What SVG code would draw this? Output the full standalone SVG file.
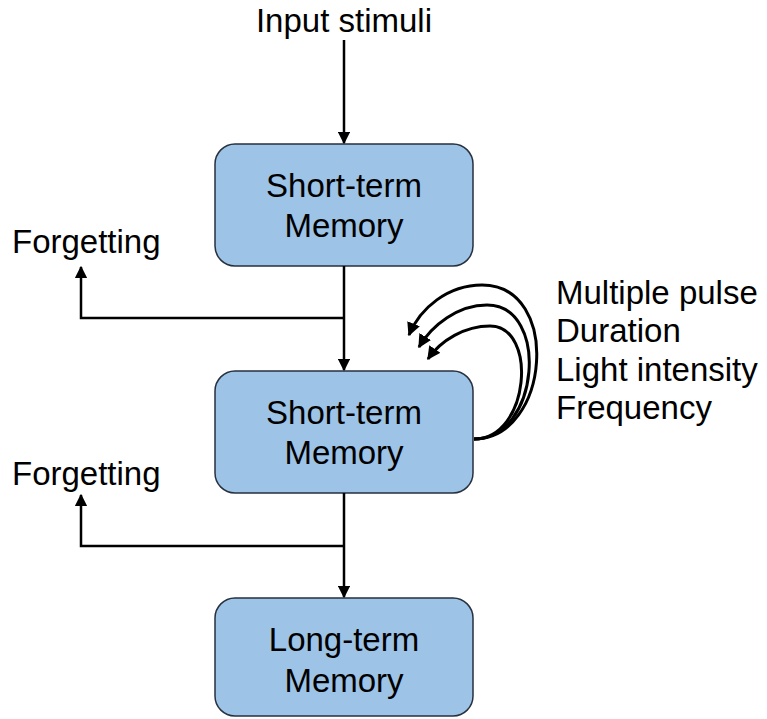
<svg xmlns="http://www.w3.org/2000/svg" width="767" height="719" viewBox="0 0 767 719">
  <style>
    .box { fill: #9dc3e6; stroke: #27313f; stroke-width: 1.5; }
    .lbl { font-family: "Liberation Sans", Arial, sans-serif; font-size: 33px; fill: #000; }
    .mid { text-anchor: middle; }
    .wire { fill: none; stroke: #000; stroke-width: 2.5; }
    .loop { fill: none; stroke: #000; stroke-width: 3; }
  </style>
  <defs>
    <marker id="head" viewBox="0 0 10 10" refX="9" refY="5" markerWidth="5" markerHeight="5" markerUnits="strokeWidth" orient="auto">
      <path d="M0,0 L10,5 L0,10 z" fill="#000"/>
    </marker>
    <marker id="headS" viewBox="0 0 10 10" refX="9" refY="5" markerWidth="4.5" markerHeight="4.5" markerUnits="strokeWidth" orient="auto">
      <path d="M0,0 L10,5 L0,10 z" fill="#000"/>
    </marker>
  </defs>
  <rect width="767" height="719" fill="#fff"/>

  <text class="lbl mid" x="344" y="32">Input stimuli</text>

  <g id="stm1">
    <rect class="box" x="215" y="144" width="258" height="122" rx="20"/>
    <text class="lbl mid" x="344" y="197">Short-term</text>
    <text class="lbl mid" x="344" y="237">Memory</text>
  </g>

  <g id="stm2">
    <rect class="box" x="215" y="371" width="258" height="122" rx="20"/>
    <text class="lbl mid" x="344" y="424">Short-term</text>
    <text class="lbl mid" x="344" y="464">Memory</text>
  </g>

  <g id="ltm">
    <rect class="box" x="215" y="598" width="258" height="118" rx="20"/>
    <text class="lbl mid" x="344" y="651">Long-term</text>
    <text class="lbl mid" x="344" y="692">Memory</text>
  </g>

  <g id="forget1">
    <text class="lbl" x="12" y="253">Forgetting</text>
  </g>
  <g id="forget2">
    <text class="lbl" x="12" y="485">Forgetting</text>
  </g>

  <g id="factors">
    <text class="lbl" x="556" y="304">Multiple pulse</text>
    <text class="lbl" x="556" y="342">Duration</text>
    <text class="lbl" x="556" y="381">Light intensity</text>
    <text class="lbl" x="556" y="419">Frequency</text>
  </g>

  <g id="connectors">
    <path class="wire" d="M344,40 V143" marker-end="url(#head)"/>
    <path class="wire" d="M344,266 V370" marker-end="url(#head)"/>
    <path class="wire" d="M344,318 H81 V267" marker-end="url(#head)"/>
    <path class="wire" d="M344,493 V597" marker-end="url(#head)"/>
    <path class="wire" d="M344,546 H81 V495" marker-end="url(#head)"/>
    <path class="loop" d="M474,439 C550,439 562,285 482,285 C448,285 420,308 409,335" marker-end="url(#headS)"/>
    <path class="loop" d="M474,439 C540,439 550,305 487,305 C458,305 432,325 419,347" marker-end="url(#headS)"/>
    <path class="loop" d="M474,439 C530,439 538,326 490,326 C465,326 441,340 428,359" marker-end="url(#headS)"/>
  </g>
</svg>
